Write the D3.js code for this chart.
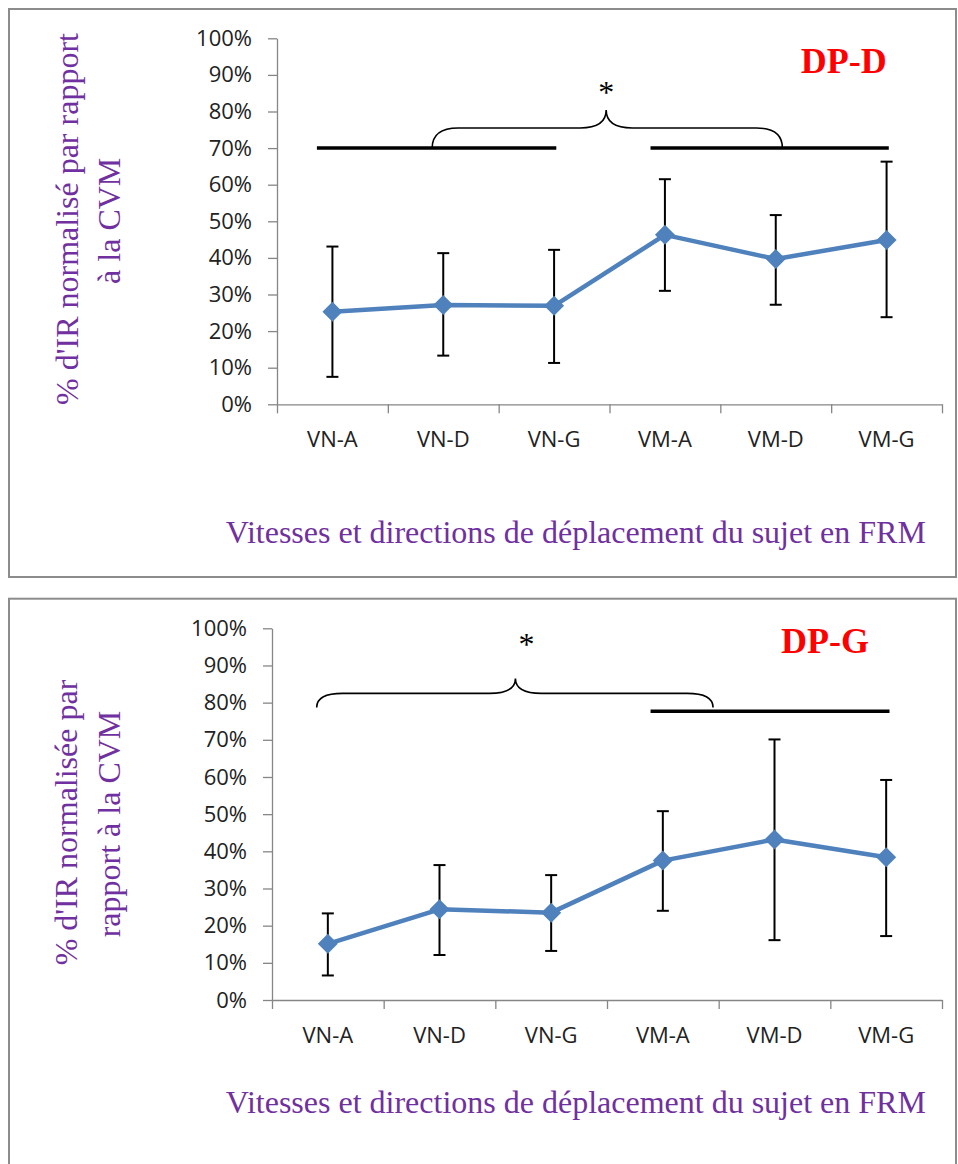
<!DOCTYPE html>
<html lang="fr">
<head>
<meta charset="UTF-8">
<title>% d'IR normalisé par rapport à la CVM</title>
<script src="https://d3js.org/d3.v7.min.js"></script>
<style>
    body { margin: 0; padding: 0; background: #fff; overflow: hidden; }
    .tick text { font-family: "Open Sans", sans-serif; font-size: 22px; fill: #222; }
    .axis path, .axis line { stroke: #868686; stroke-width: 1.3px; }
    .title { font-family: "Liberation Serif", "Times New Roman", serif; font-size: 32px; fill: #7030A0; }
    .tag { font-family: "Liberation Serif", "Times New Roman", serif; font-size: 36px; font-weight: bold; fill: #ff0000; }
    .star { font-family: "Liberation Serif", "Times New Roman", serif; font-size: 32px; fill: #000; }
</style>
</head>
<body>
<div id="chart"></div>
<script>
    // données
    const categories = ["VN-A", "VN-D", "VN-G", "VM-A", "VM-D", "VM-G"];
    const yTicks = [0, 10, 20, 30, 40, 50, 60, 70, 80, 90, 100];

    const meanD  = [25.3, 27.1, 26.9, 46.3, 39.7, 44.9];
    const upperD = [43.1, 41.3, 42.2, 61.5, 51.7, 66.3];
    const lowerD = [7.5, 13.3, 11.3, 31.0, 27.2, 23.8];

    const meanG  = [15.1, 24.4, 23.5, 37.5, 43.2, 38.4];
    const upperG = [23.3, 36.3, 33.6, 50.8, 70.1, 59.2];
    const lowerG = [6.6, 12.1, 13.2, 24.0, 16.1, 17.2];

    // annotations (x en unités de catégorie, y en %)
    const barsD  = [[0.36, 2.52, 70], [3.37, 5.52, 70]];
    const braceD = [1.40, 2.97, 4.56, 70, 75.5, 80.4];   // x0, pointe, x1, base, milieu, haut
    const starD  = [2.97, 82.3];

    const barsG  = [[3.39, 5.53, 77.7]];
    const braceG = [0.40, 2.18, 3.95, 78.7, 82.5, 86.5];
    const starG  = [2.28, 92.7];

    const W = 958, H = 1164;
    const svg = d3.select("#chart").append("svg")
        .attr("width", W)
        .attr("height", H);

    const panels = [
        {
            box: [9, 9, 947, 568],
            left: 277, right: 942, top: 38.3, bottom: 404.3,
            mean: meanD, upper: upperD, lower: lowerD,
            bars: barsD, brace: braceD, star: starD,
            tag: "DP-D", tagPos: [800.7, 72.7],
            yTitle: ["% d'IR normalisé par rapport", "à la CVM"],
            yTitlePos: [[78, 219], [120, 220.8]],
            xTitleY: 543
        },
        {
            box: [9, 598.7, 947, 620],
            left: 272, right: 942, top: 628.3, bottom: 1000,
            mean: meanG, upper: upperG, lower: lowerG,
            bars: barsG, brace: braceG, star: starG,
            tag: "DP-G", tagPos: [781, 652.7],
            yTitle: ["% d'IR normalisée par", "rapport à la CVM"],
            yTitlePos: [[77, 822.5], [120, 824]],
            xTitleY: 1113.3
        }
    ];

    panels.forEach(p => {
        // cadre
        svg.append("rect")
            .attr("x", p.box[0]).attr("y", p.box[1])
            .attr("width", p.box[2]).attr("height", p.box[3])
            .attr("fill", "none")
            .attr("stroke", "#8c8c8c")
            .attr("stroke-width", 2);

        const x = d3.scaleLinear().domain([0, categories.length]).range([p.left, p.right]);
        const y = d3.scaleLinear().domain([0, 100]).range([p.bottom, p.top]);

        // axe Y
        svg.append("g")
            .attr("class", "axis")
            .attr("transform", `translate(${p.left},0)`)
            .call(d3.axisLeft(y).tickValues(yTicks).tickSize(9).tickSizeOuter(0).tickPadding(16)
                .tickFormat(d => d + "%"));

        // axe X : graduations entre les catégories
        svg.append("g")
            .attr("class", "axis")
            .attr("transform", `translate(0,${p.bottom})`)
            .call(d3.axisBottom(x).tickValues(d3.range(categories.length + 1)).tickSize(9).tickSizeOuter(0)
                .tickFormat(""));

        svg.append("g").selectAll("text")
            .data(categories)
            .enter().append("text")
            .attr("class", "tick-label")
            .attr("x", (d, i) => x(i + 0.5))
            .attr("y", p.bottom + 43)
            .attr("text-anchor", "middle")
            .style("font-family", "'Open Sans', sans-serif")
            .style("font-size", "22px")
            .style("fill", "#222")
            .text(d => d);

        // barres d'erreur
        const eb = svg.append("g");
        categories.forEach((c, i) => {
            const cx = x(i + 0.5);
            eb.append("line")
                .attr("x1", cx).attr("x2", cx)
                .attr("y1", y(p.upper[i])).attr("y2", y(p.lower[i]))
                .attr("stroke", "#000").attr("stroke-width", 2);
            [p.upper[i], p.lower[i]].forEach(v => {
                eb.append("line")
                    .attr("x1", cx - 6).attr("x2", cx + 6)
                    .attr("y1", y(v)).attr("y2", y(v))
                    .attr("stroke", "#000").attr("stroke-width", 2);
            });
        });

        // courbe
        const line = d3.line()
            .x((d, i) => x(i + 0.5))
            .y(d => y(d));

        svg.append("path")
            .datum(p.mean)
            .attr("d", line)
            .attr("fill", "none")
            .attr("stroke", "#4F81BD")
            .attr("stroke-width", 4.5)
            .attr("stroke-linejoin", "round");

        svg.append("g").selectAll("path")
            .data(p.mean)
            .enter().append("path")
            .attr("d", d3.symbol(d3.symbolSquare, 200))
            .attr("transform", (d, i) => `translate(${x(i + 0.5)},${y(d)}) rotate(45)`)
            .attr("fill", "#4F81BD");

        // traits épais de regroupement
        p.bars.forEach(b => {
            svg.append("line")
                .attr("x1", x(b[0])).attr("x2", x(b[1]))
                .attr("y1", y(b[2])).attr("y2", y(b[2]))
                .attr("stroke", "#000")
                .attr("stroke-width", 3.5);
        });

        // accolade
        const [b0, bt, b1, yb, ym, yt] = p.brace;
        const X0 = x(b0), XT = x(bt), X1 = x(b1);
        const YB = y(yb), YM = y(ym), YT = y(yt);
        const r = 26;
        const brace = d3.path();
        brace.moveTo(X0, YB);
        brace.quadraticCurveTo(X0, YM, X0 + r, YM);
        brace.lineTo(XT - r, YM);
        brace.quadraticCurveTo(XT, YM, XT, YT);
        brace.quadraticCurveTo(XT, YM, XT + r, YM);
        brace.lineTo(X1 - r, YM);
        brace.quadraticCurveTo(X1, YM, X1, YB);
        svg.append("path")
            .attr("d", brace.toString())
            .attr("fill", "none")
            .attr("stroke", "#000")
            .attr("stroke-width", 1.6);

        svg.append("text")
            .attr("class", "star")
            .attr("x", x(p.star[0]))
            .attr("y", y(p.star[1]))
            .attr("text-anchor", "middle")
            .text("*");

        // étiquette
        svg.append("text")
            .attr("class", "tag")
            .attr("x", p.tagPos[0])
            .attr("y", p.tagPos[1])
            .text(p.tag);

        // titres des axes
        p.yTitle.forEach((t, k) => {
            svg.append("text")
                .attr("class", "title")
                .attr("transform", `translate(${p.yTitlePos[k][0]},${p.yTitlePos[k][1]}) rotate(-90)`)
                .attr("text-anchor", "middle")
                .text(t);
        });

        svg.append("text")
            .attr("class", "title")
            .attr("x", 575.8)
            .attr("y", p.xTitleY)
            .attr("text-anchor", "middle")
            .text("Vitesses et directions de déplacement du sujet en FRM");
    });
</script>
</body>
</html>
